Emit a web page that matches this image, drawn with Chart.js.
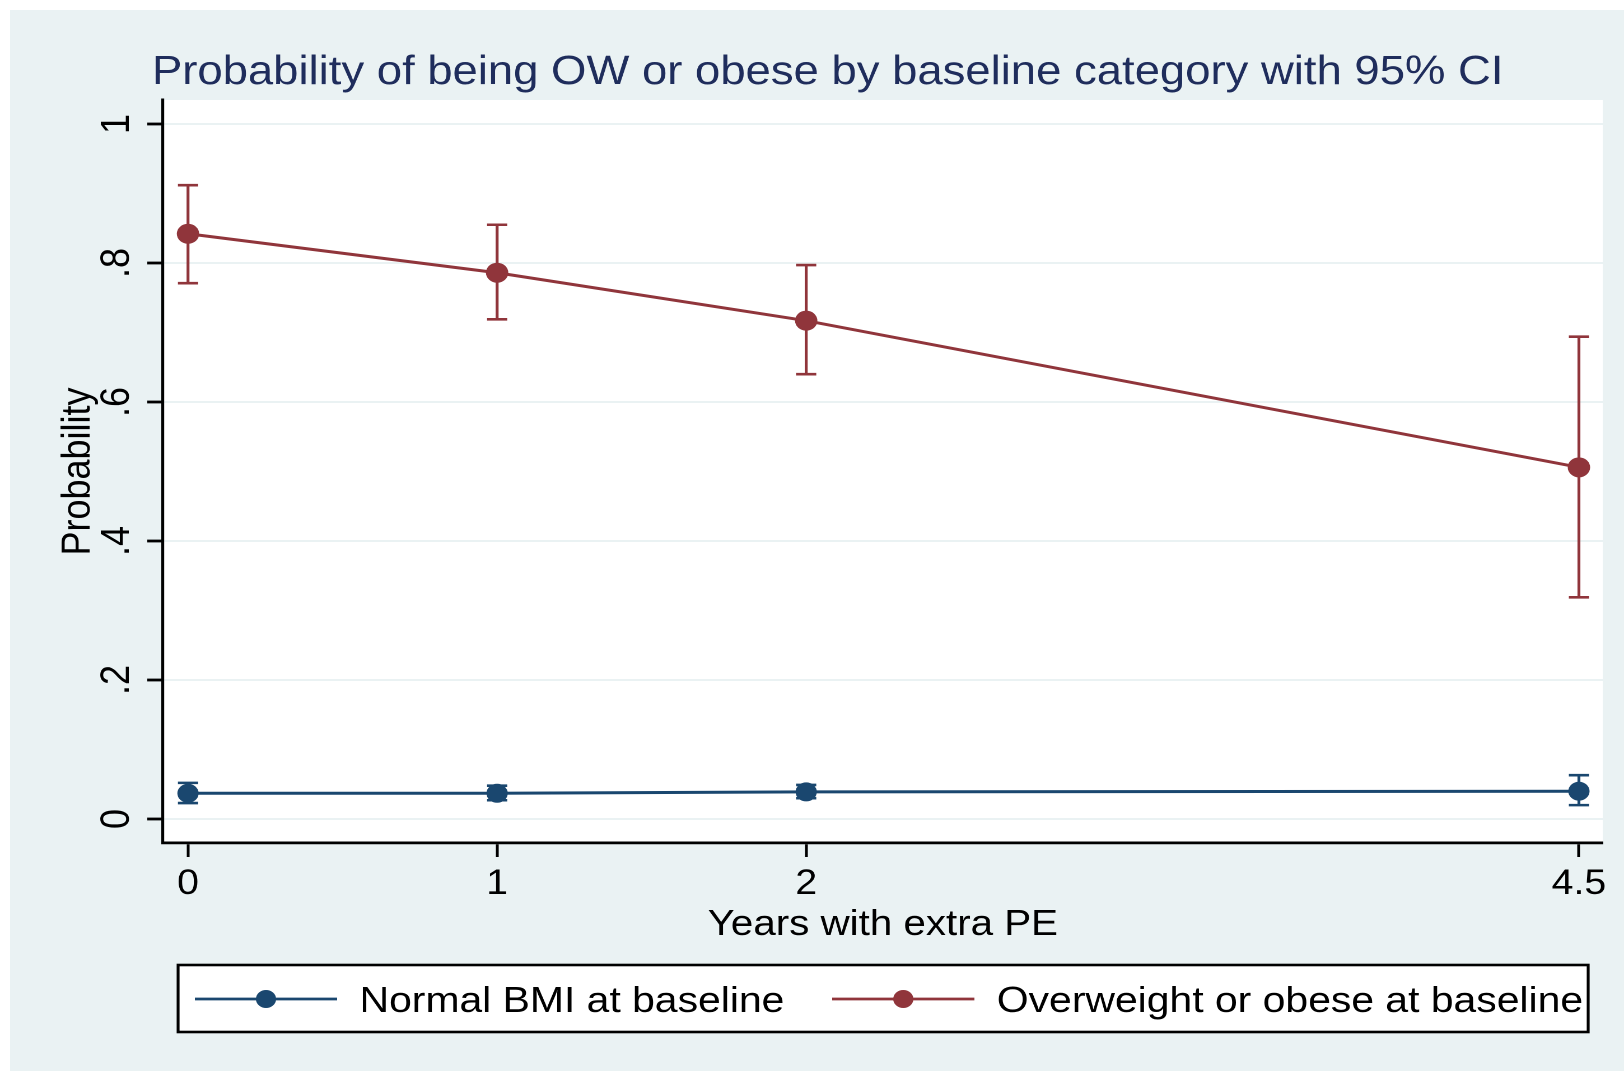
<!DOCTYPE html>
<html>
<head>
    <title>Probability of being OW or obese</title>
    <style>
        html, body {
            margin: 0;
            padding: 0;
            background: #fff;
        }
        #chart {
            display: block;
            width: 1624px;
            height: 1071px;
        }
    </style>
    <script src="https://cdn.jsdelivr.net/npm/chart.js"></script>
</head>
<body>
    <canvas id="chart" width="1450" height="1071" style="width:1624px;height:1071px;"></canvas>

    <script>
        // data
        var xValues = [0, 1, 2, 4.5];
        var xTickLabels = ["0", "1", "2", "4.5"];
        var yTickValues = [0, 0.2, 0.4, 0.6, 0.8, 1];
        var yTickLabels = ["0", ".2", ".4", ".6", ".8", "1"];

        var normalProb = [0.037, 0.037, 0.039, 0.040];
        var normalLow  = [0.023, 0.027, 0.030, 0.020];
        var normalHigh = [0.052, 0.048, 0.049, 0.063];

        var owProb = [0.842, 0.786, 0.717, 0.506];
        var owLow  = [0.771, 0.719, 0.640, 0.319];
        var owHigh = [0.912, 0.855, 0.797, 0.694];

        var navy = "#1a476f";
        var cranberry = "#90353b";
        var panelColor = "#eaf2f3";
        var fontFamily = "'Liberation Sans', Arial, Helvetica, sans-serif";

        function toPoints(ys) {
            return xValues.map(function(x, i) { return { x: x, y: ys[i] }; });
        }

        // background, CI bars, and the Stata-like text pieces
        var stataPlugin = {
            id: "stata",
            beforeDraw: function(chart) {
                var ctx = chart.ctx, a = chart.chartArea;
                ctx.save();
                ctx.fillStyle = "#fff";
                ctx.fillRect(0, 0, chart.width, chart.height);
                ctx.fillStyle = panelColor;
                ctx.fillRect(9, 10, chart.width - 9, chart.height - 10);
                ctx.fillStyle = "#fff";
                ctx.fillRect(a.left, a.top, a.right - a.left, a.bottom - a.top);
                ctx.restore();
            },
            beforeDatasetsDraw: function(chart) {
                var ctx = chart.ctx;
                var xs = chart.scales.x, ys = chart.scales.y;
                ctx.save();
                chart.data.datasets.forEach(function(ds) {
                    ctx.strokeStyle = ds.borderColor;
                    ctx.lineWidth = 2.6;
                    xValues.forEach(function(xv, i) {
                        var px = xs.getPixelForValue(xv);
                        var top = ys.getPixelForValue(ds.ciHigh[i]);
                        var bot = ys.getPixelForValue(ds.ciLow[i]);
                        ctx.beginPath();
                        ctx.moveTo(px, top); ctx.lineTo(px, bot);
                        ctx.moveTo(px - 9, top); ctx.lineTo(px + 9, top);
                        ctx.moveTo(px - 9, bot); ctx.lineTo(px + 9, bot);
                        ctx.stroke();
                    });
                });
                ctx.restore();
            },
            afterDraw: function(chart) {
                var ctx = chart.ctx, a = chart.chartArea;
                var ys = chart.scales.y;
                ctx.save();

                // title
                ctx.fillStyle = "#1f2d5c";
                ctx.font = "40.6px " + fontFamily;
                ctx.textAlign = "center";
                ctx.textBaseline = "alphabetic";
                ctx.fillText("Probability of being OW or obese by baseline category with 95% CI", 739, 84);

                // rotated y tick labels
                ctx.fillStyle = "#000";
                ctx.font = "36px " + fontFamily;
                yTickValues.forEach(function(v, i) {
                    ctx.save();
                    ctx.translate(115, ys.getPixelForValue(v));
                    ctx.rotate(-Math.PI / 2);
                    ctx.fillText(yTickLabels[i], 0, 0);
                    ctx.restore();
                });

                // y title
                ctx.save();
                ctx.translate(80, (a.top + a.bottom) / 2);
                ctx.rotate(-Math.PI / 2);
                ctx.fillText("Probability", 0, 0);
                ctx.restore();

                // x title
                ctx.font = "36px " + fontFamily;
                ctx.fillText("Years with extra PE", (a.left + a.right) / 2, 935);

                // legend
                var lx = 159, ly = 965, lw = 1259, lh = 67;
                ctx.fillStyle = "#fff";
                ctx.fillRect(lx, ly, lw, lh);
                ctx.strokeStyle = "#000";
                ctx.lineWidth = 2.6;
                ctx.strokeRect(lx, ly, lw, lh);

                var items = [
                    { ds: chart.data.datasets[0], x0: 174, textX: 321 },
                    { ds: chart.data.datasets[1], x0: 743, textX: 890 }
                ];
                items.forEach(function(it) {
                    var cy = 999;
                    ctx.strokeStyle = it.ds.borderColor;
                    ctx.lineWidth = 2.8;
                    ctx.beginPath();
                    ctx.moveTo(it.x0, cy);
                    ctx.lineTo(it.x0 + 127, cy);
                    ctx.stroke();
                    ctx.fillStyle = it.ds.borderColor;
                    ctx.beginPath();
                    ctx.arc(it.x0 + 63.5, cy, 9, 0, Math.PI * 2);
                    ctx.fill();
                    ctx.fillStyle = "#000";
                    ctx.font = "36.5px " + fontFamily;
                    ctx.textAlign = "left";
                    ctx.fillText(it.ds.label, it.textX, 1012);
                });

                ctx.restore();
            }
        };

        var chart = new Chart(document.getElementById("chart"), {
            type: "line",
            data: {
                datasets: [{
                    label: "Normal BMI at baseline",
                    data: toPoints(normalProb),
                    ciLow: normalLow,
                    ciHigh: normalHigh,
                    borderColor: navy,
                    backgroundColor: navy,
                    pointBackgroundColor: navy,
                    borderWidth: 3,
                    pointRadius: 9.5,
                    pointHoverRadius: 9.5,
                    pointBorderWidth: 0,
                    tension: 0,
                    fill: false
                }, {
                    label: "Overweight or obese at baseline",
                    data: toPoints(owProb),
                    ciLow: owLow,
                    ciHigh: owHigh,
                    borderColor: cranberry,
                    backgroundColor: cranberry,
                    pointBackgroundColor: cranberry,
                    borderWidth: 3,
                    pointRadius: 10,
                    pointHoverRadius: 10,
                    pointBorderWidth: 0,
                    tension: 0,
                    fill: false
                }]
            },
            options: {
                responsive: false,
                devicePixelRatio: 2,
                animation: false,
                events: [],
                layout: {
                    autoPadding: false,
                    padding: { left: 0, right: 19, top: 100, bottom: 148 }
                },
                plugins: {
                    legend: { display: false },
                    title: { display: false },
                    tooltip: { enabled: false }
                },
                scales: {
                    x: {
                        type: "linear",
                        min: -0.081,
                        max: 4.577,
                        afterBuildTicks: function(scale) {
                            scale.ticks = xValues.map(function(v) { return { value: v }; });
                        },
                        afterFit: function(scale) { scale.height = 80; },
                        grid: {
                            display: true,
                            drawOnChartArea: false,
                            drawTicks: true,
                            tickLength: 14,
                            tickColor: "#000",
                            tickWidth: 2.5
                        },
                        border: { display: true, color: "#000", width: 2.8 },
                        ticks: {
                            color: "#000",
                            padding: 10,
                            maxRotation: 0,
                            font: { family: fontFamily, size: 35, lineHeight: 1 },
                            callback: function(value) {
                                return xTickLabels[xValues.indexOf(value)];
                            }
                        }
                    },
                    y: {
                        type: "linear",
                        min: -0.0345,
                        max: 1.0345,
                        afterBuildTicks: function(scale) {
                            scale.ticks = yTickValues.map(function(v) { return { value: v }; });
                        },
                        afterFit: function(scale) { scale.width = 145.5; },
                        grid: {
                            color: panelColor,
                            lineWidth: 2,
                            drawTicks: true,
                            tickLength: 14,
                            tickColor: "#000",
                            tickWidth: 2.8
                        },
                        border: { display: true, color: "#000", width: 2.6 },
                        ticks: { display: false }
                    }
                }
            },
            plugins: [stataPlugin]
        });
    </script>
</body>
</html>
